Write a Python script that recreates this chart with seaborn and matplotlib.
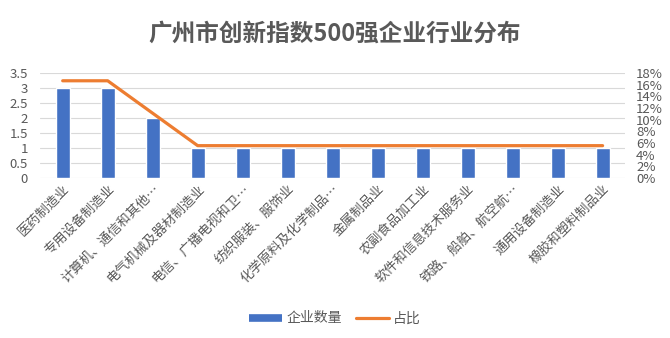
import numpy as np
import matplotlib
matplotlib.use("Agg")
import matplotlib.pyplot as plt
from matplotlib.lines import Line2D
from matplotlib.ticker import PercentFormatter
import seaborn as sns

categories = [
    "医药制造业", "专用设备制造业", "计算机、通信和其他…", "电气机械及器材制造业",
    "电信、广播电视和卫…", "纺织服装、服饰业", "化学原料及化学制品…", "金属制品业",
    "农副食品加工业", "软件和信息技术服务业", "铁路、船舶、航空航…", "通用设备制造业",
    "橡胶和塑料制品业",
]
counts = [3, 3, 2, 1, 1, 1, 1, 1, 1, 1, 1, 1, 1]
share_pct = [16.67, 16.67, 11.11, 5.56, 5.56, 5.56, 5.56, 5.56, 5.56, 5.56, 5.56, 5.56, 5.56]
left_ticks = [0, 0.5, 1, 1.5, 2, 2.5, 3, 3.5]
right_ticks = [0, 2, 4, 6, 8, 10, 12, 14, 16, 18]

BAR = "#4472C4"
LINE = "#ED7D31"
TXT = "#595959"
GRID = "#D9D9D9"

sns.set_theme(style="white")
plt.rcParams["font.family"] = ["Noto Sans CJK SC", "DejaVu Sans"]

fig = plt.figure(figsize=(6.7, 3.38), dpi=100)
ax = fig.add_axes([0.06, 0.473, 0.873, 0.311])

sns.barplot(x=categories, y=counts, color=BAR, width=0.31, saturation=1, ax=ax)
ax.set_ylim(0, 3.5)
ax.set_yticks(left_ticks)
ax.set_yticklabels([f"{t:g}" for t in left_ticks], color=TXT, fontsize=9.5)
ax.set_xlim(-0.5, len(categories) - 0.5)
ax.yaxis.grid(True, color=GRID, linewidth=0.8)
ax.set_axisbelow(True)
for s in ax.spines.values():
    s.set_visible(False)
ax.tick_params(axis="y", length=0, pad=9)
ax.tick_params(axis="x", length=0, pad=3)
ax.set_xlabel("")
ax.set_ylabel("")
ax.set_xticks(range(len(categories)))
ax.set_xticklabels(categories, rotation=45, ha="right", rotation_mode="anchor",
                   fontsize=9.5, color=TXT)

ax2 = ax.twinx()
sns.lineplot(x=np.arange(len(categories)), y=share_pct, color=LINE, linewidth=2.3,
             ax=ax2, legend=False)
ax2.set_ylim(0, 18)
ax2.set_yticks(right_ticks)
ax2.yaxis.set_major_formatter(PercentFormatter(decimals=0))
ax2.tick_params(axis="y", length=0, pad=8, labelsize=9.5, labelcolor=TXT)
ax2.set_ylabel("")
for s in ax2.spines.values():
    s.set_visible(False)
ax2.grid(False)

fig.suptitle("广州市创新指数500强企业行业分布", x=0.5, y=0.935, fontsize=17,
             fontweight="bold", color=TXT)

handles = [Line2D([0], [0], color=BAR, linewidth=5.5, solid_capstyle="butt"),
           Line2D([0], [0], color=LINE, linewidth=2.3, solid_capstyle="round")]
fig.legend(handles, ["企业数量", "占比"], loc="center", bbox_to_anchor=(0.5, 0.058),
           ncol=2, frameon=False, fontsize=10, labelcolor=TXT, handlelength=2.4,
           columnspacing=1.0, handletextpad=0.3)

fig.savefig("out.png", dpi=100, facecolor="white")
